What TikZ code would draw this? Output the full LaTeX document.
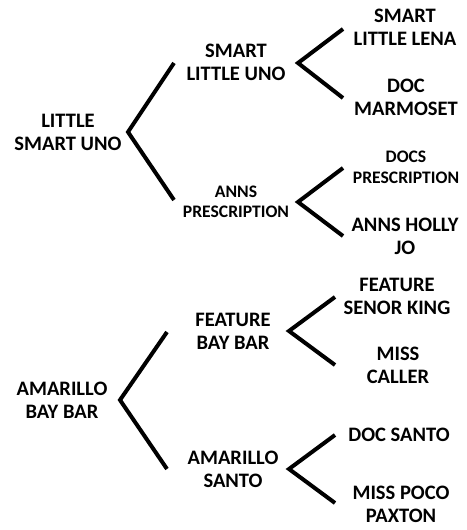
\documentclass[tikz,border=0pt]{standalone}
\usepackage{fontspec}
\setmainfont{Carlito}
\begin{document}
\begin{tikzpicture}[x=0.75pt,y=-0.75pt,
  lbl/.style={align=center,inner sep=0pt,font=\fontsize{15.4}{17.25}\selectfont\bfseries},
  lbls/.style={align=center,inner sep=0pt,font=\fontsize{13.2}{15.4}\selectfont\bfseries},
  brk/.style={line width=3pt,line join=miter}]
\useasboundingbox (0,0) rectangle (466,530);
% top tree
\node[lbl]  (r1) at (68,132.5) {LITTLE\\SMART UNO};
\node[lbl]  (a1) at (236,62.5) {SMART\\LITTLE UNO};
\node[lbls] (a2) at (236,202) {ANNS\\PRESCRIPTION};
\node[lbl]  (b1) at (405,27) {SMART\\LITTLE LENA};
\node[lbl]  (b2) at (406,97.5) {DOC\\MARMOSET};
\node[lbls] (b3) at (406,167.5) {DOCS\\PRESCRIPTION};
\node[lbl]  (b4) at (405,236.5) {ANNS HOLLY\\JO};
% bottom tree
\node[lbl]  (r2) at (62,400) {AMARILLO\\BAY BAR};
\node[lbl]  (c1) at (233,331.5) {FEATURE\\BAY BAR};
\node[lbl]  (c2) at (233,469.5) {AMARILLO\\SANTO};
\node[lbl]  (d1) at (397,296.5) {FEATURE\\SENOR KING};
\node[lbl]  (d2) at (398,365) {MISS\\CALLER};
\node[lbl]  (d3) at (399,435) {DOC SANTO};
\node[lbl]  (d4) at (401,504.5) {MISS POCO\\PAXTON};
% bracket coordinates
\coordinate (v1) at (128,132); \coordinate (v1u) at (174,63);  \coordinate (v1l) at (174,200);
\coordinate (v2) at (298,63);  \coordinate (v2u) at (343,29);  \coordinate (v2l) at (343,98);
\coordinate (v3) at (298,202); \coordinate (v3u) at (343,168); \coordinate (v3l) at (343,236);
\coordinate (v4) at (120,400); \coordinate (v4u) at (167,332); \coordinate (v4l) at (167,469);
\coordinate (v5) at (289,331); \coordinate (v5u) at (335,297); \coordinate (v5l) at (335,365);
\coordinate (v6) at (289,469); \coordinate (v6u) at (335,435); \coordinate (v6l) at (335,503);
\draw[brk] (v1u) -- (v1) -- (v1l);
\draw[brk] (v2u) -- (v2) -- (v2l);
\draw[brk] (v3u) -- (v3) -- (v3l);
\draw[brk] (v4u) -- (v4) -- (v4l);
\draw[brk] (v5u) -- (v5) -- (v5l);
\draw[brk] (v6u) -- (v6) -- (v6l);
\end{tikzpicture}
\end{document}
